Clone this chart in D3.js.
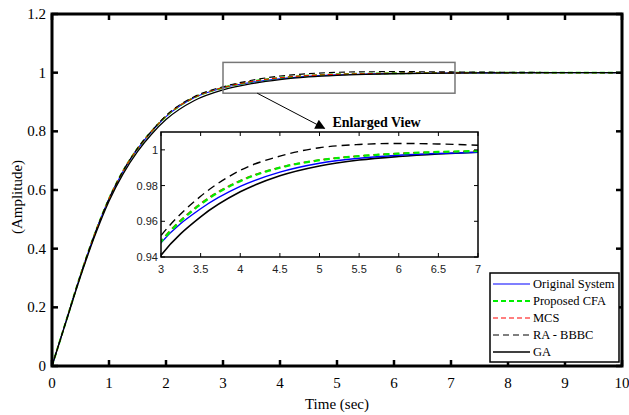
<!DOCTYPE html>
<html>
<head>
<meta charset="utf-8">
<title>step response</title>
<script src="https://cdn.jsdelivr.net/npm/d3@7"></script>
<style>
  body { margin: 0; background: #fff; }
  svg { display: block; }
</style>
</head>
<body>
<div id="container"></div>
<script>
// time samples and responses
var time     = [0, 0.25, 0.5, 0.75, 1, 1.25, 1.5, 1.75, 2, 2.5, 3, 3.5, 4, 4.5, 5, 5.5, 6, 6.5, 7, 7.5, 8, 9, 10];
var original = [0, 0.155, 0.31, 0.45, 0.57, 0.665, 0.74, 0.80, 0.85, 0.915, 0.948, 0.967, 0.9795, 0.9875, 0.9925, 0.9953, 0.997, 0.998, 0.9987, 0.9992, 0.9995, 0.9999, 1.0];
var cfa      = [0, 0.155, 0.31, 0.45, 0.57, 0.666, 0.741, 0.801, 0.851, 0.916, 0.9485, 0.9695, 0.9825, 0.990, 0.9942, 0.9965, 0.9979, 0.9988, 0.9993, 0.9996, 0.9998, 1.0, 1.0];
var mcs      = [0, 0.155, 0.31, 0.45, 0.57, 0.666, 0.741, 0.801, 0.852, 0.916, 0.949, 0.970, 0.9828, 0.9902, 0.9943, 0.9966, 0.998, 0.9988, 0.9993, 0.9996, 0.9998, 1.0, 1.0];
var rabbbc   = [0, 0.155, 0.31, 0.45, 0.57, 0.666, 0.742, 0.802, 0.854, 0.919, 0.952, 0.974, 0.9885, 0.9965, 1.0012, 1.003, 1.0036, 1.0033, 1.0026, 1.0019, 1.0013, 1.0006, 1.0002];
var ga       = [0, 0.153, 0.305, 0.443, 0.562, 0.656, 0.731, 0.791, 0.84, 0.905, 0.941, 0.9625, 0.9765, 0.9855, 0.991, 0.9943, 0.9963, 0.9977, 0.9987, 0.9993, 0.9996, 0.9999, 1.0];

var seriesNames = ["Original System", "Proposed CFA", "MCS", "RA - BBBC", "GA"];
var seriesData  = [original, cfa, mcs, rabbbc, ga];
var xTicks = [0, 1, 2, 3, 4, 5, 6, 7, 8, 9, 10];
var yTicks = [0, 0.2, 0.4, 0.6, 0.8, 1, 1.2];
var zxTicks = [3, 3.5, 4, 4.5, 5, 5.5, 6, 6.5, 7];
var zyTicks = [0.94, 0.96, 0.98, 1];
var zoomBox = {x0: 3, x1: 7.07, y0: 0.93, y1: 1.035};

var styles = [
  {color: "#0000ff", width: 1.1, dash: null},
  {color: "#00ee00", width: 2, dash: "5,3"},
  {color: "#ff0000", width: 1.1, dash: "5,3"},
  {color: "#000000", width: 1.1, dash: "6,4"},
  {color: "#000000", width: 1.3, dash: null}
];

var W = 629, H = 415;
var L = 52, R = 622, T = 14, B = 366;
var serif = "'Liberation Serif', 'Times New Roman', serif";
var sans = "'Liberation Sans', Arial, sans-serif";

var svg = d3.select("#container").append("svg")
  .attr("width", W).attr("height", H);

var x = d3.scaleLinear().domain([0, 10]).range([L, R]);
var y = d3.scaleLinear().domain([0, 1.2]).range([B, T]);

// curves on main plot
function pts(vals) { return time.map(function(t, i) { return [t, vals[i]]; }); }

var line = d3.line().x(function(d){ return x(d[0]); }).y(function(d){ return y(d[1]); })
  .curve(d3.curveMonotoneX);

seriesData.forEach(function(vals, i) {
  svg.append("path").datum(pts(vals))
    .attr("d", line).attr("fill", "none")
    .attr("stroke", styles[i].color)
    .attr("stroke-width", styles[i].width)
    .attr("stroke-dasharray", styles[i].dash);
});

// axes (box style, ticks inward)
var ax = svg.append("g").attr("font-family", serif).attr("font-size", 15);
ax.append("rect").attr("x", L).attr("y", T).attr("width", R - L).attr("height", B - T)
  .attr("fill", "none").attr("stroke", "#000").attr("stroke-width", 3);

xTicks.forEach(function(t) {
  ax.append("line").attr("x1", x(t)).attr("x2", x(t)).attr("y1", B).attr("y2", B - 6)
    .attr("stroke", "#000").attr("stroke-width", 2.5);
  ax.append("line").attr("x1", x(t)).attr("x2", x(t)).attr("y1", T).attr("y2", T + 6)
    .attr("stroke", "#000").attr("stroke-width", 2.5);
  ax.append("text").attr("x", x(t)).attr("y", B + 22).attr("text-anchor", "middle").text(t);
});
yTicks.forEach(function(v) {
  ax.append("line").attr("x1", L).attr("x2", L + 6).attr("y1", y(v)).attr("y2", y(v))
    .attr("stroke", "#000").attr("stroke-width", 2.5);
  ax.append("line").attr("x1", R).attr("x2", R - 6).attr("y1", y(v)).attr("y2", y(v))
    .attr("stroke", "#000").attr("stroke-width", 2.5);
  ax.append("text").attr("x", L - 6).attr("y", y(v) + 5).attr("text-anchor", "end").text(v);
});

ax.append("text").attr("x", (L + R) / 2).attr("y", 409).attr("text-anchor", "middle").text("Time (sec)");
ax.append("text").attr("transform", "translate(22,197) rotate(-90)")
  .attr("text-anchor", "middle").text("(Amplitude)");

// zoom rectangle
svg.append("rect")
  .attr("x", x(zoomBox.x0)).attr("y", y(zoomBox.y1))
  .attr("width", x(zoomBox.x1) - x(zoomBox.x0)).attr("height", y(zoomBox.y0) - y(zoomBox.y1))
  .attr("fill", "none").attr("stroke", "#777").attr("stroke-width", 1.5);

// arrow
svg.append("defs").append("marker").attr("id", "arr")
  .attr("viewBox", "0 0 10 10").attr("refX", 9).attr("refY", 5)
  .attr("markerWidth", 13).attr("markerHeight", 10).attr("markerUnits", "userSpaceOnUse")
  .attr("orient", "auto")
  .append("path").attr("d", "M0,0L10,5L0,10z").attr("fill", "#000");
svg.append("line")
  .attr("x1", x(3.6)).attr("y1", y(zoomBox.y0))
  .attr("x2", x(4.78)).attr("y2", y(0.81))
  .attr("stroke", "#000").attr("stroke-width", 1).attr("marker-end", "url(#arr)");
svg.append("text").attr("x", x(4.92)).attr("y", y(0.815))
  .attr("font-family", serif).attr("font-size", 14).attr("font-weight", "bold")
  .text("Enlarged View");

// inset
var iL = 161, iR = 478, iT = 132, iB = 257;
var zx = d3.scaleLinear().domain([3, 7]).range([iL, iR]);
var zy = d3.scaleLinear().domain([0.94, 1.01]).range([iB, iT]);
var inset = svg.append("g");
inset.append("rect").attr("x", iL).attr("y", iT).attr("width", iR - iL).attr("height", iB - iT)
  .attr("fill", "#fff");
inset.append("clipPath").attr("id", "iclip").append("rect")
  .attr("x", iL).attr("y", iT).attr("width", iR - iL).attr("height", iB - iT);
var zline = d3.line().x(function(d){ return zx(d[0]); }).y(function(d){ return zy(d[1]); })
  .curve(d3.curveMonotoneX);
var ic = inset.append("g").attr("clip-path", "url(#iclip)");
[4, 0, 3, 2, 1].forEach(function(i) {
  ic.append("path").datum(pts(seriesData[i]))
    .attr("d", zline).attr("fill", "none")
    .attr("stroke", styles[i].color)
    .attr("stroke-width", styles[i].width + 0.3)
    .attr("stroke-dasharray", styles[i].dash ? (i == 3 ? "8,5" : "6,4") : null);
});
inset.append("rect").attr("x", iL).attr("y", iT).attr("width", iR - iL).attr("height", iB - iT)
  .attr("fill", "none").attr("stroke", "#000").attr("stroke-width", 1.5);
var it = inset.append("g").attr("font-family", sans).attr("font-size", 11).attr("fill", "#222");
zxTicks.forEach(function(t) {
  it.append("line").attr("x1", zx(t)).attr("x2", zx(t)).attr("y1", iB).attr("y2", iB - 4).attr("stroke", "#000");
  it.append("line").attr("x1", zx(t)).attr("x2", zx(t)).attr("y1", iT).attr("y2", iT + 4).attr("stroke", "#000");
  it.append("text").attr("x", zx(t)).attr("y", iB + 16).attr("text-anchor", "middle").text(t);
});
zyTicks.forEach(function(v) {
  it.append("line").attr("x1", iL).attr("x2", iL + 4).attr("y1", zy(v)).attr("y2", zy(v)).attr("stroke", "#000");
  it.append("line").attr("x1", iR).attr("x2", iR - 4).attr("y1", zy(v)).attr("y2", zy(v)).attr("stroke", "#000");
  it.append("text").attr("x", iL - 3).attr("y", zy(v) + 4).attr("text-anchor", "end").text(v);
});

// legend
var lg = svg.append("g").attr("font-family", serif).attr("font-size", 12.5);
lg.append("rect").attr("x", 490).attr("y", 273).attr("width", 129).attr("height", 89)
  .attr("fill", "#fff").attr("stroke", "#000").attr("stroke-width", 1.5);
seriesNames.forEach(function(name, i) {
  var yy = 284 + i * 17;
  lg.append("line").attr("x1", 493).attr("x2", 530).attr("y1", yy).attr("y2", yy)
    .attr("stroke", styles[i].color).attr("stroke-width", styles[i].width)
    .attr("stroke-dasharray", styles[i].dash);
  lg.append("text").attr("x", 533).attr("y", yy + 4).text(name);
});
</script>
</body>
</html>
